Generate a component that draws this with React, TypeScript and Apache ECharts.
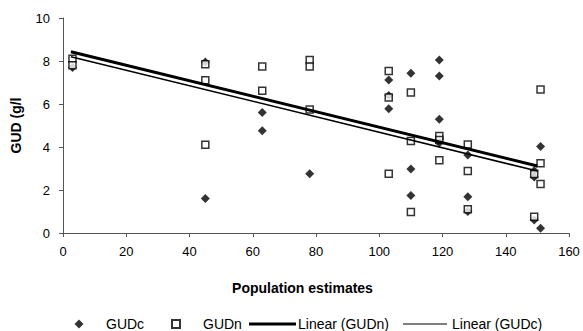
import React, { useEffect, useRef } from "react";
import * as echarts from "echarts";

const gudC: number[][] = [
  [3, 7.7], [45, 7.95], [45, 1.6], [63, 5.6], [63, 4.76], [78, 2.76],
  [103, 7.12], [103, 6.4], [103, 5.78], [110, 7.43], [110, 2.98], [110, 1.74],
  [119, 8.05], [119, 7.3], [119, 5.29], [119, 4.2], [128, 3.63], [128, 1.69],
  [128, 1.0], [149, 2.9], [149, 2.6], [149, 0.6], [151, 4.02], [151, 0.22],
];
const gudN: number[][] = [
  [3, 8.1], [3, 7.8], [45, 7.85], [45, 7.1], [45, 4.1], [63, 7.74], [63, 6.62],
  [78, 8.05], [78, 7.74], [78, 5.75], [103, 7.53], [103, 6.3], [103, 2.76],
  [110, 6.53], [110, 4.28], [110, 0.98], [119, 4.51], [119, 4.33], [119, 3.38],
  [128, 4.12], [128, 2.88], [128, 1.1], [149, 2.74], [149, 0.76],
  [151, 6.68], [151, 3.24], [151, 2.28],
];
const linearN: number[][] = [[2.5, 8.43], [150, 3.12]];
const linearC: number[][] = [[2.5, 8.2], [150, 2.88]];

const FONT = "Liberation Sans, Arial, sans-serif";

export default function App() {
  const ref = useRef<HTMLDivElement>(null);
  useEffect(() => {
    if (!ref.current) return;
    const chart = echarts.init(ref.current, undefined, { renderer: "svg" });
    const txt = { fontFamily: FONT, fontSize: 14, color: "#000" };
    const legendBase = {
      top: 312,
      selectedMode: false,
      orient: "horizontal",
    };
    chart.setOption({
      animation: false,
      backgroundColor: "#fff",
      grid: { left: 63, right: 14, top: 18, bottom: 98, containLabel: false },
      xAxis: {
        type: "value",
        min: 0,
        max: 160,
        interval: 20,
        name: "Population estimates",
        nameLocation: "middle",
        nameGap: 48,
        nameTextStyle: { fontFamily: FONT, fontSize: 14, fontWeight: "bold", color: "#000", padding: [0, 27, 0, 0] },
        axisLine: { lineStyle: { color: "#555", width: 1 } },
        axisTick: { show: true, length: 4, lineStyle: { color: "#555" } },
        axisLabel: { fontFamily: FONT, fontSize: 13, color: "#000", margin: 12 },
        splitLine: { show: false },
      },
      yAxis: {
        type: "value",
        min: 0,
        max: 10,
        interval: 2,
        name: "GUD (g/l",
        nameLocation: "middle",
        nameGap: 40,
        nameTextStyle: { fontFamily: FONT, fontSize: 14, fontWeight: "bold", color: "#000" },
        axisLine: { show: true, lineStyle: { color: "#555", width: 1 } },
        axisTick: { show: true, length: 4, lineStyle: { color: "#555" } },
        axisLabel: { fontFamily: FONT, fontSize: 13, color: "#000", margin: 13, padding: [0, 0, 6, 0] },
        splitLine: { show: false },
      },
      legend: [
        { ...legendBase, left: 69.5, itemWidth: 9, itemHeight: 9, data: [{ name: "GUDc", icon: "diamond" }],
          textStyle: { ...txt, padding: [0, 0, 0, 17.5] } },
        { ...legendBase, left: 166, itemWidth: 8, itemHeight: 8, data: [{ name: "GUDn", icon: "rect" }],
          textStyle: { ...txt, padding: [0, 0, 0, 18] } },
        { ...legendBase, left: 244, itemWidth: 47, itemHeight: 3, data: [{ name: "Linear (GUDn)", icon: "rect" }],
          textStyle: { ...txt, padding: [0, 0, 0, -3] } },
        { ...legendBase, left: 398, itemWidth: 44, itemHeight: 1.2, data: [{ name: "Linear (GUDc)", icon: "rect" }],
          textStyle: { ...txt, padding: [0, 0, 0, 0] } },
      ],
      series: [
        {
          name: "GUDc",
          type: "scatter",
          data: gudC,
          symbol: "diamond",
          symbolSize: 9,
          itemStyle: { color: "#000" },
          z: 3,
        },
        {
          name: "GUDn",
          type: "scatter",
          data: gudN,
          symbol: "rect",
          symbolSize: 7,
          itemStyle: { color: "#fff", borderColor: "#000", borderWidth: 1.5 },
          z: 4,
        },
        {
          name: "Linear (GUDn)",
          type: "line",
          data: linearN,
          showSymbol: false,
          symbol: "none",
          lineStyle: { color: "#000", width: 3 },
          itemStyle: { color: "#000" },
          z: 5,
        },
        {
          name: "Linear (GUDc)",
          type: "line",
          data: linearC,
          showSymbol: false,
          symbol: "none",
          lineStyle: { color: "#000", width: 1.5 },
          itemStyle: { color: "#000" },
          z: 5,
        },
      ],
    });
    return () => chart.dispose();
  }, []);
  return <div ref={ref} style={{ width: 583, height: 331, position: "absolute", left: 0, top: 0 }} />;
}
